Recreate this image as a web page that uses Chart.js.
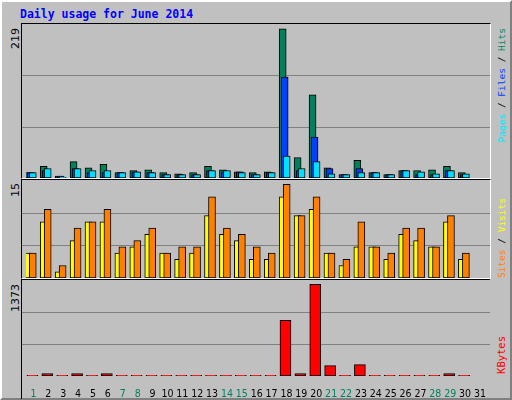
<!DOCTYPE html>
<html><head><meta charset="utf-8">
<script src="https://cdn.jsdelivr.net/npm/chart.js"></script>
<style>
body{margin:0;background:#c0c0c0;}
#frame{position:absolute;left:0;top:0;width:508px;height:396px;background:#c0c0c0;border-left:2px solid #fff;border-top:2px solid #fff;border-right:2px solid #808080;border-bottom:2px solid #808080;}
.panel{position:absolute;left:21px;width:468px;background:#c0c0c0;border-top:1px solid #000;border-left:1px solid #000;border-right:1px solid #fff;border-bottom:1px solid #fff;}
.panel canvas{position:absolute;left:0;top:0;}
.vl{position:absolute;writing-mode:vertical-rl;transform:rotate(180deg);white-space:nowrap;}
.yl{font:11px "DejaVu Sans",sans-serif;color:#000;}
.rl{font:9.5px "DejaVu Sans Mono",monospace;}
#title{position:absolute;left:20px;top:7px;font:bold 11.5px "DejaVu Sans Mono",monospace;color:#0000ff;}
</style></head><body>
<div id="frame"></div>
<div id="title">Daily usage for June 2014</div>
<div class="panel" style="top:23px;height:154px"><canvas id="c1"></canvas></div>
<div class="panel" style="top:179px;height:98px"><canvas id="c2"></canvas></div>
<div class="panel" style="top:279px;height:119px;border-bottom:none;border-right:none;background:none"><canvas id="c3"></canvas></div>
<div class="vl yl" style="left:9px;top:28px">219</div>
<div class="vl yl" style="left:9px;top:183px">15</div>
<div class="vl yl" style="left:9px;top:284px">1373</div>
<div class="vl rl" style="left:496px;top:28px"><span style="color:#00e0ff">Pages</span><span style="color:#000"> / </span><span style="color:#0040ff">Files</span><span style="color:#000"> / </span><span style="color:#00805c">Hits</span></div>
<div class="vl rl" style="left:496px;top:198px"><span style="color:#ff8000">Sites</span><span style="color:#000"> / </span><span style="color:#ffff00">Visits</span></div>
<div class="vl rl" style="left:495px;top:336px;font-size:10.5px;color:#ff0000">KBytes</div>
<script>
const days = ['1','2','3','4','5','6','7','8','9','10','11','12','13','14','15','16','17','18','19','20','21','22','23','24','25','26','27','28','29','30','31'];
const weekend = [1,7,8,14,15,21,22,28,29];
const hits  = [8,17,3,24,15,20,8,11,12,8,6,8,17,12,9,8,9,219,30,122,15,5,26,8,5,11,11,12,17,8,0];
const files = [8,11,3,14,8,8,8,9,8,5,5,5,11,9,9,5,8,148,11,60,14,5,14,8,5,11,5,5,11,5,0];
const pages = [8,14,1,14,11,11,8,9,8,5,5,5,11,11,8,5,8,32,14,24,6,5,8,8,5,11,9,6,11,6,0];
const visits= [4,9,1,6,9,9,4,5,7,4,3,4,10,7,6,3,3,13,10,11,4,2,5,5,3,7,6,5,9,3,0];
const sites = [4,11,2,8,9,11,5,6,8,4,5,5,13,8,7,5,4,15,10,13,4,3,9,5,4,8,8,5,10,4,0];
const kbytes= [10,35,10,35,10,35,10,10,10,10,10,10,10,10,10,10,10,832,35,1373,155,10,170,10,10,10,10,10,35,10,0];

const shiftPlugin={id:'shift',afterDatasetsUpdate(chart){chart.data.datasets.forEach((ds,i)=>{const m=chart.getDatasetMeta(i);m.data.forEach(el=>{el.x+=ds.shift||0;});});}};
const gridPlugin={id:'grid3',beforeDatasetsDraw(chart){const y=chart.scales.y,ctx=chart.ctx;ctx.save();ctx.strokeStyle='#808080';ctx.lineWidth=1;
 [1,2].forEach(k=>{const py=Math.round(y.getPixelForValue(y.max*k/3))+0.5;ctx.beginPath();ctx.moveTo(0,py);ctx.lineTo(chart.width,py);ctx.stroke();});ctx.restore();}};

function bar(label,data,color,shift,w,order){return {label,data,backgroundColor:color,borderColor:'#000',borderWidth:1,borderSkipped:false,barThickness:w,grouped:false,shift,order};}
function make(id,w,h,datasets,ymax,showX){
 const cv=document.getElementById(id);cv.width=w;cv.height=h;cv.style.width=w+'px';cv.style.height=h+'px';
 const xs={display:showX,grid:{display:false},border:{display:false},
       ticks:{autoSkip:false,maxRotation:0,padding:4,font:{family:'DejaVu Sans Condensed, DejaVu Sans',size:10.5},
              color:c=>weekend.includes(c.index+1)?'#008060':'#000'}};
 if(showX) xs.afterFit=s=>{s.height=23;};
 return new Chart(cv,{type:'bar',data:{labels:days,datasets},
  options:{responsive:false,animation:false,devicePixelRatio:1,
   layout:{padding:{left:4,right:1,top:0,bottom:0}},
   plugins:{legend:{display:false},tooltip:{enabled:false}},
   scales:{x:xs,y:{display:false,min:0,max:ymax}}},
  plugins:[shiftPlugin,gridPlugin]});
}
make('c1',468,154,[bar('Hits',hits,'#00805c',-4.7,7,3),bar('Files',files,'#0040ff',-2.7,7,2),bar('Pages',pages,'#00e0ff',-0.7,7,1)],226,false);
make('c2',468,98,[bar('Visits',visits,'#ffff00',-4.7,7,2),bar('Sites',sites,'#ff8000',-0.7,7,1)],15.7,false);
make('c3',468,119,[bar('KBytes',kbytes,'#ff0000',-1,11,1)],1437,true);
</script></body></html>
